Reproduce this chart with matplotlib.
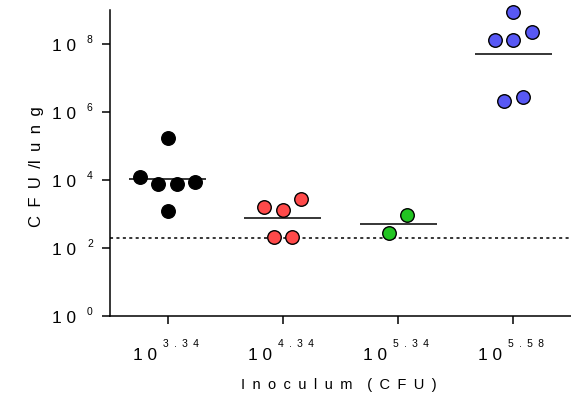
import matplotlib
matplotlib.use('Agg')
import matplotlib.pyplot as plt
import numpy as np
from matplotlib.transforms import offset_copy

plt.rcParams['font.family'] = ['Liberation Sans', 'DejaVu Sans']

# inoculum exponents (10^x CFU) for the four groups
inoculum_exp = ['3.34', '4.34', '5.34', '5.58']

# log10 CFU/lung, one list per group
log_cfu_334 = [5.23, 4.07, 3.87, 3.87, 3.95, 3.07]
log_cfu_434 = [3.19, 3.10, 3.44, 2.31, 2.31]
log_cfu_534 = [2.95, 2.43]
log_cfu_558 = [8.94, 8.13, 8.11, 8.35, 6.32, 6.44]

detection_limit = 200
ytick_exp = [0, 2, 4, 6, 8]

groups = [log_cfu_334, log_cfu_434, log_cfu_534, log_cfu_558]
colors = ['#000000', '#FF4A4A', '#22C422', '#5858F4']
# horizontal scatter within each column
jitter = [
    [0.0, -0.24, -0.08, 0.08, 0.24, 0.0],
    [-0.16, 0.0, 0.16, -0.08, 0.08],
    [0.08, -0.08],
    [0.0, -0.16, 0.0, 0.16, -0.08, 0.08],
]

SP = '\u2002'  # en space, for the letter-spaced look of the original


def spaced(s):
    return SP.join(s.replace(' ', SP))


fig = plt.figure(figsize=(5.71, 4.01), dpi=100)
ax = fig.add_axes([110 / 571, 1 - 315.7 / 401, 461 / 571, 305.7 / 401])

for i, (vals, col, jit) in enumerate(zip(groups, colors, jitter)):
    vals = np.array(vals)
    ax.scatter(i + np.array(jit), 10 ** vals, s=95, c=col, edgecolors='black',
               linewidths=1.0, zorder=3, clip_on=False)
    gmean = 10 ** vals.mean()
    ax.hlines(gmean, i - 0.335, i + 0.335, color='black', lw=1.1, zorder=2)

ax.axhline(detection_limit, color='black', lw=1.1, linestyle=(0, (2, 2.2)), zorder=1)

ax.set_yscale('log')
ax.set_ylim(1, 1e9)
ax.set_xlim(-0.5, 3.5)

for s in ['top', 'right']:
    ax.spines[s].set_visible(False)
for s in ['left', 'bottom']:
    ax.spines[s].set_linewidth(1.1)

ax.set_yticks([10.0 ** k for k in ytick_exp])
ax.yaxis.set_minor_locator(matplotlib.ticker.NullLocator())
ax.set_yticklabels([])
ax.set_xticks(range(len(inoculum_exp)))
ax.set_xticklabels([])
ax.tick_params(axis='both', length=5.8, width=1.1, direction='out')

# y tick labels "10^k" drawn as text, as in the source figure
ytr = ax.get_yaxis_transform()
for k in ytick_exp:
    ax.text(0, 10.0 ** k, '1 0', ha='right', va='center', fontsize=12.4,
            transform=offset_copy(ytr, fig=fig, x=-34, y=-3, units='dots'))
    ax.text(0, 10.0 ** k, str(k), ha='left', va='center', fontsize=7.5,
            transform=offset_copy(ytr, fig=fig, x=-23, y=4, units='dots'))

# x tick labels "10^e"
xtr = ax.get_xaxis_transform()
for i, e in enumerate(inoculum_exp):
    ax.text(i, 0, '1 0', ha='right', va='center', fontsize=12.4,
            transform=offset_copy(xtr, fig=fig, x=-11, y=-40, units='dots'))
    ax.text(i, 0, spaced(e), ha='left', va='center', fontsize=7.5,
            transform=offset_copy(xtr, fig=fig, x=-5, y=-28, units='dots'))

fig.text(339 / 571, 1 - 385 / 401, SP.join('Inoculum') + SP * 2 + spaced('(CFU)'),
         ha='center', va='center', fontsize=10.5)
fig.text(36 / 571, 1 - 167 / 401, spaced('CFU') + SP + '/l' + SP + spaced('ung'),
         ha='center', va='center', rotation=90, fontsize=12)

fig.savefig('out.png', dpi=100)
